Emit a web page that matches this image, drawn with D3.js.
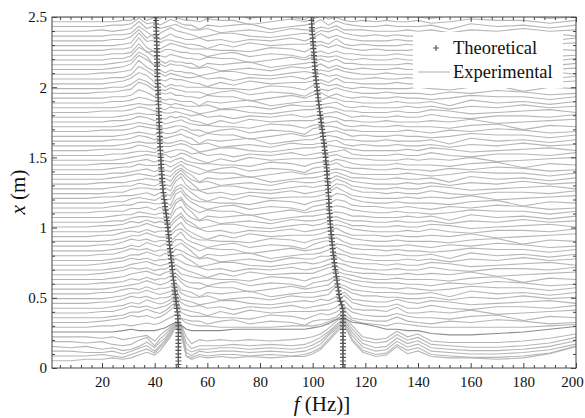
<!DOCTYPE html>
<html>
<head>
<meta charset="utf-8">
<script src="https://cdn.jsdelivr.net/npm/d3@7"></script>
<style>
  body { margin: 0; background: #fff; }
  svg text { font-family: "Liberation Serif", "Times New Roman", serif; fill: #111; }
</style>
</head>
<body>
<div id="chart"></div>
<script>
// frequency grid (Hz) shared by every measured spectrum
const freqs = [1, 8, 14, 20, 24, 28, 31, 34, 37, 40,
               42, 44, 46, 48, 50, 52, 54, 57, 60, 65,
               70, 76, 84, 92, 97, 100, 103, 106, 109, 112,
               115, 119, 124, 128, 132, 136, 140, 145, 152, 160,
               170, 180, 190, 200];

// measurement positions x (m), top to bottom
const positions = [2.500, 2.466, 2.432, 2.398, 2.364, 2.330, 2.296, 2.262, 2.228, 2.194,
                   2.160, 2.126, 2.092, 2.058, 2.024, 1.990, 1.956, 1.922, 1.888, 1.854,
                   1.820, 1.786, 1.752, 1.718, 1.684, 1.650, 1.616, 1.582, 1.548, 1.514,
                   1.480, 1.446, 1.412, 1.378, 1.344, 1.310, 1.276, 1.242, 1.208, 1.174,
                   1.140, 1.106, 1.072, 1.038, 1.004, 0.970, 0.936, 0.902, 0.868, 0.834,
                   0.800, 0.766, 0.732, 0.698, 0.664, 0.630, 0.596, 0.562, 0.528, 0.494,
                   0.460, 0.426, 0.392, 0.358, 0.324, 0.290, 0.256, 0.222, 0.188, 0.154,
                   0.120, 0.086, 0.052];

// spectrum offsets from each position, in cm, one char per frequency:
// 0-9 = 0..9, a-z = 10..35, A-Z = -1..-26
const spectra = [
  "0000112412 34321101A1 2A10B35132 1100100A10 21A0",
  "0000011513 2453211021 1B02024231 0101001A02 11A1",
  "0000112623 1354211B10 12B0125142 10010001B2 01A1",
  "0001012724 234532112A 01A2113241 11000101A1 0201",
  "000011273A 2464321A02 20A1214352 101010021A 0120",
  "0000113825 1353211201 A102025242 100010020A 1102",
  "0000012934 24432110B1 A201123151 0100010102 A012",
  "000011292A 1354321110 0A21A24242 10100010A1 2B10",
  "0000112823 24432211A1 2A10B13131 1000100A10 21A0",
  "0000113962 3243211021 1B02023231 0100100A02 11A1",
  "000012396A 3132211B10 12B0124241 10000101B2 01A1",
  "0000124a73 424332112A 01A2124131 01001001A1 0201",
  "0001123a52 3132211A02 20A1213242 100100021A 0120",
  "0000113962 4243211201 A102024231 001001020A 1102",
  "0000124861 32433210B1 A201123141 1000100102 A012",
  "0000113751 4132211110 0A21A24231 01000010A1 2B10",
  "0001123862 32432111A1 2A10B13242 1001000A10 21A0",
  "0000112641 4342211021 1B02024131 0100100A02 11A1",
  "0000112431 3232111B10 12B0112431 10001001B2 01A1",
  "0000012322 432321112A 01A2112341 01000101A1 0201",
  "0001112431 3243321A02 20A1223431 100010021A 0120",
  "0000012322 4334321201 A102012342 010010020A 1102",
  "0000112431 32434310B1 A201113431 1001000102 A012",
  "0000012321 4234532110 0A21A12341 01001000A1 2B10",
  "0001112432 32344311A1 2A10B23431 1000010A10 21A0",
  "0000012321 4223542021 1B02012342 0100100A02 11A1",
  "0000112431 3234532B10 12B0113431 10010001B2 01A1",
  "0000012322 422343112A 01A2112341 01001001A1 0201",
  "0001112431 3334542A02 20A1223432 100001021A 0120",
  "0000112332 4234431201 A102012234 100010020A 1102",
  "0000012343 34235420B1 A201112342 1100010102 A012",
  "0001112342 4324532110 0A21A12243 10001000A1 2B10",
  "0000122433 34246431A1 2A10B12352 1100100A10 21A0",
  "0000112342 4325742021 1B02012343 1000010A02 11A1",
  "0000123432 4326853B10 12B0112453 11001001B2 01A1",
  "0001112343 3427a6312A 01A2112364 21000101A1 0201",
  "0000122432 4328b74A02 20A1212375 210010021A 0120",
  "0000113443 3429c63201 A102012376 311010020A 1102",
  "0001122342 4328a740B1 A201112485 2100010102 A012",
  "0000113432 4239b63110 0A21A12376 31001000A1 2B10",
  "0000122443 342ac741A1 2A10B12365 2110010A10 21A0",
  "0001113342 4239b63021 1B02012354 2100100A02 11A1",
  "0000122432 342ad74B10 12B0112343 11000101B2 01A1",
  "0000113443 3239b6312A 01A2112342 11001001A1 0201",
  "0001124353 4337a53A02 20A1212453 110010021A 0120",
  "0000123464 3348b64201 A102012354 210001020A 1102",
  "0001134353 4437a530B1 A201112463 1110100102 A012",
  "0000124464 3348963110 0A21A12354 21001000A1 2B10",
  "0001135453 4437a531A1 2A10B13463 1100010A10 21A0",
  "0000124364 3548853021 1B02012454 2110100A02 11A1",
  "0001135453 4447963B10 12B0112463 11001001B2 01A1",
  "0000124464 354875312A 01A2113354 21000101A1 0201",
  "0001235453 4457853A02 20A1212463 211010021A 0120",
  "0000124564 3458643201 A102012454 210010020A 1102",
  "0001235453 44675320B1 A201113563 2110010102 A012",
  "0000124564 3568432110 0A21A12464 31001000A1 2B10",
  "0001124353 44684211A1 2A10B12365 3211100A10 21A0",
  "0000123464 3469521021 1B02012386 4211010A02 11A1",
  "0001134353 4458321B10 12B0112376 32111001B2 01A1",
  "0000124464 345942112A 01A2112397 42211001A1 0201",
  "0001135453 445a321A02 20A1213258 321131021A 0120",
  "0000124364 346a421201 A102012359 421130020A 1102",
  "0001135453 457b3210B1 A201112249 3221400102 A012",
  "0000124464 358b421110 0A21A13248 42113100A1 2B10",
  "0001235453 469c3211A1 2A10B12249 3211410A10 21A0",
  "0001121232 3579632110 0001112469 5321321000 0012",
  "0000012111 2357521111 222223469a 7642211ABB A024",
  "000A0BA01C 147a90EBCB CBCBA026bf 80BA402CDD DCA2",
  "00A0BCB13C 259dbAECCC BCBCB037ch 91A0513BCD DCA3",
  "0A0BACB03A 36bgdBDBBA ABABA149ej a2A0624ABC CB04",
  "00AA0B0240 48djfAC0A0 0A0A025bgl b3017350AB BA15",
  "00010A1352 6afmh0A101 1010136cin c41284610A A027",
  "0011212464 7choj31323 2323358ekp e634a57322 125a"
];

// the one darker trace
const darkPosition = 0.256;

// theoretical natural frequencies (Hz), sampled every 0.025 m from x = 0 to 2.5
const theoStep = 0.025;
const theoF1 = [49.0, 49.0, 49.0, 49.0, 49.0, 49.0, 49.0, 49.0, 49.0, 49.0, 49.0, 49.0, 49.0,
  48.9, 48.8, 48.7, 48.6, 48.45, 48.3, 48.15, 48.0, 47.8, 47.65, 47.5, 47.3,
  47.15, 47.0, 46.85, 46.7, 46.55, 46.4, 46.25, 46.1, 45.95, 45.8, 45.65, 45.5,
  45.4, 45.25, 45.1, 45.0, 44.8, 44.65, 44.5, 44.3, 44.15, 43.95, 43.8, 43.6,
  43.45, 43.3, 43.15, 43.0, 42.9, 42.8, 42.7, 42.6, 42.5, 42.45, 42.35, 42.3,
  42.2, 42.15, 42.05, 42.0, 41.95, 41.9, 41.85, 41.8, 41.75, 41.7, 41.65, 41.6,
  41.55, 41.5, 41.45, 41.4, 41.35, 41.3, 41.25, 41.2, 41.15, 41.1, 41.05, 41.0,
  41.0, 40.95, 40.9, 40.9, 40.85, 40.85, 40.8, 40.8, 40.75, 40.7, 40.65, 40.6,
  40.6, 40.55, 40.5, 40.5];
const theoF2 = [111.5, 111.5, 111.5, 111.5, 111.5, 111.5, 111.5, 111.5, 111.5, 111.5,
  111.5, 111.5, 111.5, 111.5, 111.5, 111.5, 111.5,
  111.3, 111.0, 110.6, 110.2, 110.0, 109.8, 109.6, 109.4, 109.2, 109.0, 108.8, 108.6,
  108.4, 108.25, 108.1, 107.9, 107.75, 107.6, 107.45, 107.3, 107.2, 107.05, 106.9, 106.8,
  106.7, 106.6, 106.5, 106.4, 106.3, 106.25, 106.15, 106.1, 106.0, 105.95, 105.9, 105.8,
  105.7, 105.6, 105.5, 105.4, 105.3, 105.15, 105.0, 104.9, 104.75, 104.6, 104.45, 104.3,
  104.1, 103.95, 103.8, 103.6, 103.4, 103.25, 103.1, 102.9, 102.7, 102.55, 102.4, 102.2,
  102.05, 101.9, 101.75, 101.6, 101.45, 101.3, 101.15, 101.0, 100.9, 100.8, 100.7, 100.6,
  100.5, 100.4, 100.3, 100.2, 100.1, 100.0, 99.9, 99.8, 99.7, 99.65, 99.55, 99.5];

// axis ticks
const xTicks = [20, 40, 60, 80, 100, 120, 140, 160, 180, 200];
const yTicks = [0, 0.5, 1, 1.5, 2, 2.5];
const yTickLabels = ["0", "0.5", "1", "1.5", "2", "2.5"];

const margin = {top: 17, right: 9, bottom: 50, left: 52};
const width = 585 - margin.left - margin.right;
const height = 418 - margin.top - margin.bottom;
const serif = '"Liberation Serif", "Times New Roman", serif';

const svg = d3.select("#chart")
              .append("svg")
                .attr("width", 585)
                .attr("height", 418)
                .style("font-family", serif);
const g = svg.append("g")
             .attr("transform", `translate(${margin.left},${margin.top})`);

const x = d3.scaleLinear().domain([1, 200]).range([0, width]);
const y = d3.scaleLinear().domain([0, 2.5]).range([height, 0]);

svg.append("defs").append("clipPath").attr("id", "plotclip")
   .append("rect").attr("width", width).attr("height", height);

// decode one offset char to cm
function decode(c) {
  if (c >= "0" && c <= "9") return +c;
  if (c >= "a" && c <= "z") return c.charCodeAt(0) - 87;
  if (c >= "A" && c <= "Z") return -(c.charCodeAt(0) - 64);
  return 0;
}

const series = positions.map((p, i) => {
  const devs = spectra[i].replace(/\s/g, "").split("").map(decode);
  return {pos: p, pts: freqs.map((f, j) => [f, p + (devs[j] || 0) / 100])};
});

const line = d3.line().x(d => x(d[0])).y(d => y(d[1]));

const plot = g.append("g").attr("clip-path", "url(#plotclip)");

plot.append("g")
    .selectAll("path")
    .data(series.filter(s => s.pos !== darkPosition))
    .join("path")
      .attr("d", d => line(d.pts))
      .attr("fill", "none")
      .attr("stroke", "#b6b6b6")
      .attr("stroke-width", 1.1);

plot.append("g")
    .selectAll("path")
    .data(series.filter(s => s.pos === darkPosition))
    .join("path")
      .attr("d", d => line(d.pts))
      .attr("fill", "none")
      .attr("stroke", "#8c8c8c")
      .attr("stroke-width", 1.1);

// theoretical points as + markers
const theo = [];
theoF1.forEach((f, k) => theo.push([f, k * theoStep]));
theoF2.forEach((f, k) => theo.push([f, k * theoStep]));

const plus = "M-3,0H3M0,-3V3";
plot.append("g")
    .selectAll("path")
    .data(theo)
    .join("path")
      .attr("transform", d => `translate(${x(d[0])},${y(d[1])})`)
      .attr("d", plus)
      .attr("stroke", "#555")
      .attr("stroke-width", 1.2);

// axes with inward ticks
const xMinor = d3.range(4, 200, 4).filter(v => v % 20 !== 0);
const yMinor = d3.range(1, 25).map(v => v / 10).filter(v => Math.round(v * 10) % 5 !== 0);

function styleAxis(sel) {
  sel.attr("font-family", null);
  sel.select(".domain").remove();
  sel.selectAll("line").attr("stroke", "#444");
  sel.selectAll("text").style("font-size", "15px").style("font-family", serif).attr("fill", "#111");
}

g.append("g").attr("transform", `translate(0,${height})`)
 .call(d3.axisBottom(x).tickValues(xTicks).tickSize(-5).tickPadding(8))
 .call(styleAxis)
 .selectAll("text").filter(d => d === 200).attr("dx", "-4");
g.append("g").attr("transform", `translate(0,${height})`)
 .call(d3.axisBottom(x).tickValues(xMinor).tickSize(-3).tickFormat(""))
 .call(styleAxis);
g.append("g")
 .call(d3.axisTop(x).tickValues(xTicks).tickSize(-5).tickFormat(""))
 .call(styleAxis);
g.append("g")
 .call(d3.axisTop(x).tickValues(xMinor).tickSize(-3).tickFormat(""))
 .call(styleAxis);

g.append("g")
 .call(d3.axisLeft(y).tickValues(yTicks).tickSize(-5).tickPadding(5)
         .tickFormat((d, i) => yTickLabels[i]))
 .call(styleAxis);
g.append("g")
 .call(d3.axisLeft(y).tickValues(yMinor).tickSize(-3).tickFormat(""))
 .call(styleAxis);
g.append("g").attr("transform", `translate(${width},0)`)
 .call(d3.axisRight(y).tickValues(yTicks).tickSize(-5).tickFormat(""))
 .call(styleAxis);
g.append("g").attr("transform", `translate(${width},0)`)
 .call(d3.axisRight(y).tickValues(yMinor).tickSize(-3).tickFormat(""))
 .call(styleAxis);

g.append("rect")
 .attr("width", width).attr("height", height)
 .attr("fill", "none").attr("stroke", "#444").attr("stroke-width", 1);

// axis titles
const yTitle = svg.append("text")
                  .attr("transform", "translate(25,192) rotate(-90)")
                  .attr("text-anchor", "middle")
                  .style("font-size", "21px");
yTitle.append("tspan").style("font-style", "italic").text("x");
yTitle.append("tspan").text(" (m)");

const xTitle = svg.append("text")
                  .attr("x", 322).attr("y", 411)
                  .attr("text-anchor", "middle")
                  .style("font-size", "21px");
xTitle.append("tspan").style("font-style", "italic").text("f");
xTitle.append("tspan").text(" (Hz)]");

// legend
const legend = svg.append("g");
legend.append("rect")
      .attr("x", 413).attr("y", 32).attr("width", 150).attr("height", 56)
      .attr("fill", "#fff");
legend.append("path")
      .attr("transform", "translate(436,48)")
      .attr("d", plus)
      .attr("stroke", "#555").attr("stroke-width", 1.2);
legend.append("text").attr("x", 453).attr("y", 54)
      .style("font-size", "18.5px").text("Theoretical");
legend.append("line")
      .attr("x1", 418).attr("x2", 450).attr("y1", 72).attr("y2", 72)
      .attr("stroke", "#b6b6b6").attr("stroke-width", 1.1);
legend.append("text").attr("x", 453).attr("y", 78)
      .style("font-size", "18.5px").text("Experimental");
</script>
</body>
</html>
